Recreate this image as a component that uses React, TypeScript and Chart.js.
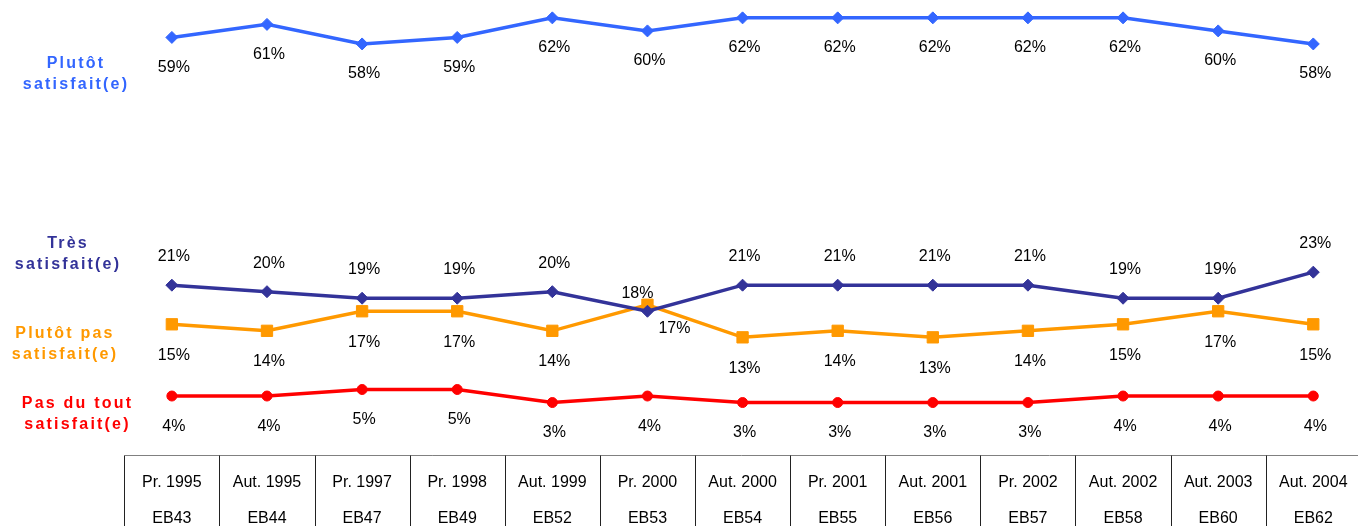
import React, { useEffect, useRef } from "react";
import { Chart, registerables } from "chart.js";

Chart.register(...registerables);

// ---- Data ----
const periods = [
  "Pr. 1995", "Aut. 1995", "Pr. 1997", "Pr. 1998", "Aut. 1999", "Pr. 2000", "Aut. 2000",
  "Pr. 2001", "Aut. 2001", "Pr. 2002", "Aut. 2002", "Aut. 2003", "Aut. 2004",
];
const waves = ["EB43", "EB44", "EB47", "EB49", "EB52", "EB53", "EB54", "EB55", "EB56", "EB57", "EB58", "EB60", "EB62"];

const plutotSatisfait = [59, 61, 58, 59, 62, 60, 62, 62, 62, 62, 62, 60, 58];
const tresSatisfait = [21, 20, 19, 19, 20, 17, 21, 21, 21, 21, 19, 19, 23];
const plutotPasSatisfait = [15, 14, 17, 17, 14, 18, 13, 14, 13, 14, 15, 17, 15];
const pasDuToutSatisfait = [4, 4, 5, 5, 3, 4, 3, 3, 3, 3, 4, 4, 4];

const seriesNames = [
  ["Plutôt", "satisfait(e)"],
  ["Très", "satisfait(e)"],
  ["Plutôt pas", "satisfait(e)"],
  ["Pas du tout", "satisfait(e)"],
];

// ---- Styles ----
const COLORS = ["#3366FF", "#333399", "#FF9900", "#FF0000"];
const FONT = "'Liberation Sans', Arial, sans-serif";

export default function App() {
  const ref = useRef<HTMLCanvasElement | null>(null);

  useEffect(() => {
    if (!ref.current) return;
    const series = [plutotSatisfait, tresSatisfait, plutotPasSatisfait, pasDuToutSatisfait];
    const shapes = ["rectRot", "rectRot", "rect", "circle"];
    const radii = [6, 6, 8, 5];

    const labelPlugin = {
      id: "valueLabels",
      afterDatasetsDraw(chart: any) {
        const ctx = chart.ctx;
        ctx.save();
        ctx.font = `16px ${FONT}`;
        ctx.fillStyle = "#000";
        ctx.textAlign = "center";
        ctx.textBaseline = "middle";
        series.forEach((vals, di) => {
          const meta = chart.getDatasetMeta(di);
          vals.forEach((v, i) => {
            const pt = meta.data[i];
            let dx = 2;
            let dy = [30, -28.5, 31, 30.5][di];
            const crossed = tresSatisfait[i] < plutotPasSatisfait[i];
            if (crossed && di === 1) { dx = 27; dy = 17; }
            if (crossed && di === 2) { dx = -10; dy = -11; }
            ctx.fillText(`${v}%`, pt.x + dx, pt.y + dy);
          });
        });
        ctx.restore();
      },
    };

    const decorPlugin = {
      id: "decor",
      afterDraw(chart: any) {
        const ctx = chart.ctx;
        const xs = chart.scales.x;
        const W = chart.width;
        const H = chart.height;
        ctx.save();
        // series names on the left
        const nameCenters = [75, 67, 64, 76.5];
        const nameY = [[64, 85], [243.5, 265], [333.5, 355], [403.5, 425]];
        ctx.font = `bold 16px ${FONT}`;
        (ctx as any).letterSpacing = "2.2px";
        ctx.textAlign = "center";
        ctx.textBaseline = "middle";
        seriesNames.forEach((lines, si) => {
          ctx.fillStyle = COLORS[si];
          lines.forEach((ln, li) => ctx.fillText(ln, nameCenters[si] + 1, nameY[si][li]));
        });
        (ctx as any).letterSpacing = "0px";

        // table
        const top = 455.5;
        const left = xs.getPixelForValue(-0.5);
        ctx.strokeStyle = "#808080";
        ctx.lineWidth = 1;
        ctx.beginPath();
        ctx.moveTo(Math.round(left) + 0.5, top);
        ctx.lineTo(W, top);
        ctx.stroke();
        ctx.strokeStyle = "#222";
        for (let i = 0; i <= periods.length; i++) {
          const bx = Math.round(xs.getPixelForValue(i - 0.5)) + 0.5;
          ctx.beginPath();
          ctx.moveTo(bx, top);
          ctx.lineTo(bx, H);
          ctx.stroke();
        }
        ctx.fillStyle = "#000";
        ctx.font = `16px ${FONT}`;
        periods.forEach((p, i) => {
          const cx = xs.getPixelForValue(i);
          ctx.fillText(p, cx, 482.5);
          ctx.fillText(waves[i], cx, 519);
        });
        ctx.restore();
      },
    };

    const chart = new Chart(ref.current, {
      type: "line",
      data: {
        datasets: series.map((vals, di) => ({
          label: seriesNames[di].join(" "),
          data: vals.map((v, i) => ({ x: i, y: v })),
          borderColor: COLORS[di],
          backgroundColor: COLORS[di],
          borderWidth: 3.5,
          pointStyle: shapes[di] as any,
          pointRadius: radii[di],
          pointBorderWidth: 1,
          pointBorderColor: COLORS[di],
          pointBackgroundColor: COLORS[di],
          tension: 0,
          clip: false as any,
          fill: false,
        })),
      },
      options: {
        responsive: false,
        animation: false,
        layout: { autoPadding: false, padding: { left: 124.3, right: 0, top: 0, bottom: 103.9 } },
        plugins: { legend: { display: false }, tooltip: { enabled: false } },
        scales: {
          x: { type: "linear", min: -0.5, max: 12.47, display: false },
          y: { type: "linear", min: 0, max: 64.74, display: false },
        },
      },
      plugins: [labelPlugin, decorPlugin],
    });
    return () => chart.destroy();
  }, []);

  return (
    <div style={{ position: "absolute", left: 0, top: 0, width: 1358, height: 526, background: "#fff" }}>
      <canvas ref={ref} width={1358} height={526} style={{ display: "block" }} />
    </div>
  );
}
